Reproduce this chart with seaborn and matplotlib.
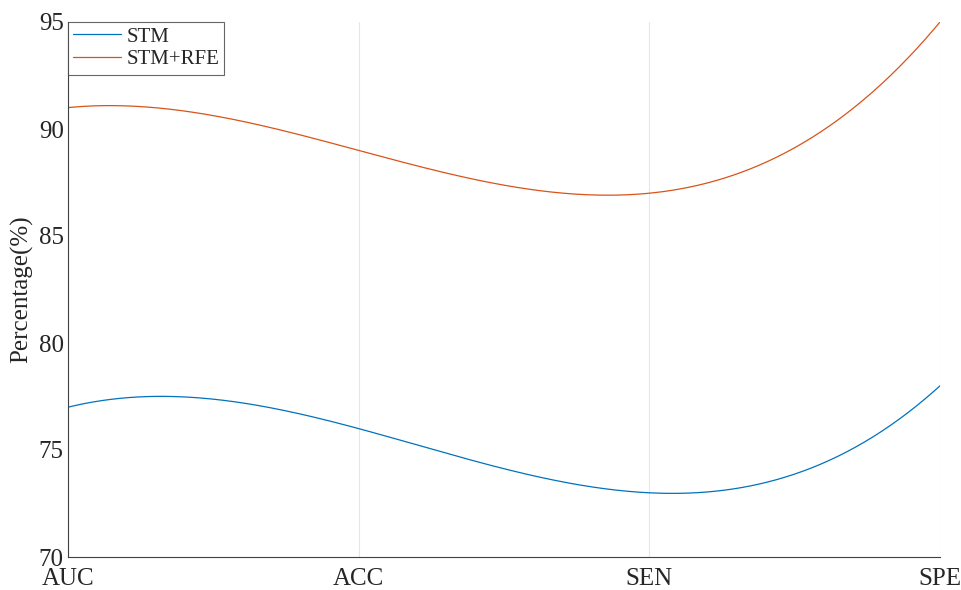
import numpy as np
import pandas as pd
import seaborn as sns
import matplotlib
matplotlib.use("Agg")
import matplotlib.pyplot as plt

metrics = ["AUC", "ACC", "SEN", "SPE"]
stm = [77, 76, 73, 78]
stm_rfe = [91, 89, 87, 95]
y_ticks = [70, 75, 80, 85, 90, 95]

sns.set_theme(style="white")
plt.rcParams["font.family"] = ["Liberation Serif", "DejaVu Serif"]

# Smooth curve through the four metric points (cubic interpolant)
pos = np.arange(len(metrics))
xs = np.linspace(0, len(metrics) - 1, 300)
rows = []
for name, vals in [("STM", stm), ("STM+RFE", stm_rfe)]:
    coef = np.polyfit(pos, vals, len(vals) - 1)
    for x, y in zip(xs, np.polyval(coef, xs)):
        rows.append({"x": x, "value": y, "model": name})
df = pd.DataFrame(rows)

fig = plt.figure(figsize=(9.61, 5.90), dpi=100)
ax = fig.add_axes([68 / 961, 1 - 557 / 590, (940 - 68) / 961, (557 - 22) / 590])

sns.lineplot(data=df, x="x", y="value", hue="model", ax=ax,
             palette=["#0072BD", "#D95319"], linewidth=0.9, legend=True)

ax.set_xlim(0, 3)
ax.set_ylim(70, 95)
ax.set_xticks(pos)
ax.set_xticklabels(metrics)
ax.set_yticks(y_ticks)
ax.set_xlabel("")
ax.set_ylabel("Percentage(%)", fontsize=18, labelpad=4)
ax.tick_params(axis="both", direction="in", labelsize=18, length=5,
               color="#404040", width=0.8, pad=3)
ax.tick_params(axis="x", pad=8)
ax.xaxis.grid(True, color="#e6e6e6", linewidth=0.8)
ax.yaxis.grid(False)
for s in ["top", "right"]:
    ax.spines[s].set_visible(False)
for s in ["left", "bottom"]:
    ax.spines[s].set_color("#404040")
    ax.spines[s].set_linewidth(0.8)

leg = ax.legend(loc="upper left", fontsize=15, frameon=True, fancybox=False,
                edgecolor="#404040", borderaxespad=0, handlelength=2.3,
                borderpad=0.25, labelspacing=0.15, handletextpad=0.25)
leg.get_frame().set_linewidth(0.8)

fig.savefig("out.png", dpi=100)
